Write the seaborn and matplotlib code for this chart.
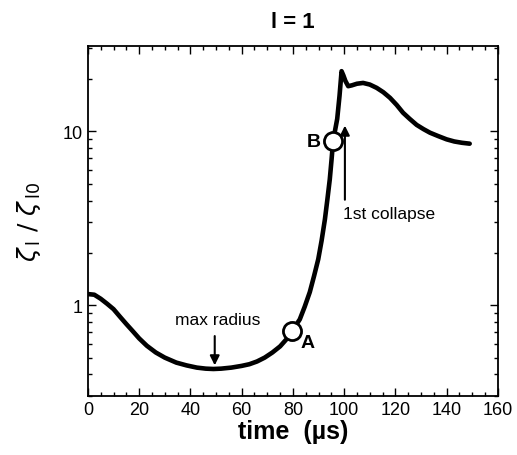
import matplotlib
matplotlib.use("Agg")
import matplotlib.pyplot as plt
import seaborn as sns
import pandas as pd
from matplotlib.ticker import MultipleLocator, FixedLocator, NullFormatter, LogLocator

time_us = [0, 2.5, 5, 7.5, 10, 12.5, 15, 17.5, 20, 23, 26.5, 30, 34.5, 38.5, 42.5, 46, 49,
           52, 56, 60, 63, 66, 69, 72, 75, 77.5, 79.5, 81, 82.7, 84.6, 86.6, 88.3, 89.9,
           91.2, 92.5, 93.5, 94.4, 95.1, 95.7, 96.5, 97.3, 98.2, 99, 99.7, 100.5, 101.6,
           103, 105, 107.4, 110, 112.7, 115.3, 117.9, 120.5, 123, 125.6, 128.3, 131,
           133.5, 136.7, 140, 143, 146, 149]
ratio = [1.16, 1.15, 1.09, 1.02, 0.95, 0.86, 0.78, 0.71, 0.645, 0.585, 0.535, 0.50, 0.468,
         0.451, 0.438, 0.432, 0.43, 0.432, 0.438, 0.448, 0.458, 0.475, 0.50, 0.535, 0.58,
         0.638, 0.71, 0.76, 0.83, 0.98, 1.19, 1.48, 1.84, 2.35, 3.12, 4.1, 5.3, 6.9, 8.8,
         10.2, 11.8, 16.0, 22.2, 21.0, 19.5, 18.2, 18.4, 18.8, 19.0, 18.6, 17.8, 16.8, 15.6,
         14.2, 12.8, 11.8, 10.9, 10.3, 9.83, 9.4, 9.0, 8.75, 8.6, 8.5]

point_t = [79.5, 95.7]
point_v = [0.71, 8.8]
point_lbl = ["A", "B"]

xticks = [0, 20, 40, 60, 80, 100, 120, 140, 160]
yticks = [1, 10]

sns.set_theme(style="ticks")
plt.rcParams['font.family'] = ['Liberation Sans', 'DejaVu Sans']
plt.rcParams['mathtext.fontset'] = 'dejavusans'
plt.rcParams['text.color'] = 'black'
plt.rcParams['axes.labelcolor'] = 'black'
plt.rcParams['xtick.color'] = 'black'
plt.rcParams['ytick.color'] = 'black'

fig = plt.figure(figsize=(5.17, 4.56), dpi=100)
ax = fig.add_axes([0.170, 0.129, 0.793, 0.768])

df = pd.DataFrame({"t": time_us, "r": ratio})
sns.lineplot(data=df, x="t", y="r", ax=ax, color="black", linewidth=3.3, sort=False,
             solid_capstyle="round", solid_joinstyle="round")
pts = pd.DataFrame({"t": point_t, "r": point_v})
sns.scatterplot(data=pts, x="t", y="r", ax=ax, s=170, facecolor="white",
                edgecolor="black", linewidth=2, zorder=5)

ax.set_yscale("log")
ax.set_xlim(0, 160)
ax.set_ylim(0.30, 31.0)
ax.set_xticks(xticks)
ax.set_xticklabels([str(v) for v in xticks])
ax.xaxis.set_minor_locator(MultipleLocator(5))
ax.yaxis.set_major_locator(FixedLocator(yticks))
ax.set_yticklabels([str(v) for v in yticks])
ax.yaxis.set_minor_locator(LogLocator(base=10, subs=range(2, 10)))
ax.yaxis.set_minor_formatter(NullFormatter())
ax.tick_params(which="both", direction="in", top=True, right=True, labelsize=13, width=1)
ax.tick_params(which="major", length=6)
ax.tick_params(which="minor", length=3)
for s in ax.spines.values():
    s.set_linewidth(1.3)
    s.set_color("black")

ax.set_xlabel("time  (µs)", fontsize=18, fontweight="bold", labelpad=1)
ax.set_ylabel(r"$\zeta_{\,\mathrm{l}}\ /\ \zeta_{\,\mathrm{l0}}$", fontsize=18, labelpad=14)
ax.set_title("l = 1", fontsize=16, fontweight="bold", pad=14)

# point labels
ax.text(point_t[0] + 3.5, 0.61, point_lbl[0], fontsize=14, fontweight="bold",
        ha="left", va="center")
ax.text(point_t[1] - 5, point_v[1], point_lbl[1], fontsize=14, fontweight="bold",
        ha="right", va="center")

# annotations
ax.annotate("", xy=(49.5, 0.435), xytext=(49.5, 0.69),
            arrowprops=dict(arrowstyle="-|>", color="black", lw=1.5, mutation_scale=14))
ax.text(50.5, 0.83, "max radius", fontsize=12.5, ha="center", va="center")
ax.annotate("", xy=(100.3, 11.2), xytext=(100.3, 3.9),
            arrowprops=dict(arrowstyle="-|>", color="black", lw=1.5, mutation_scale=14))
ax.text(99.5, 3.35, "1st collapse", fontsize=12.5, ha="left", va="center")

fig.savefig("out.png", dpi=100)
